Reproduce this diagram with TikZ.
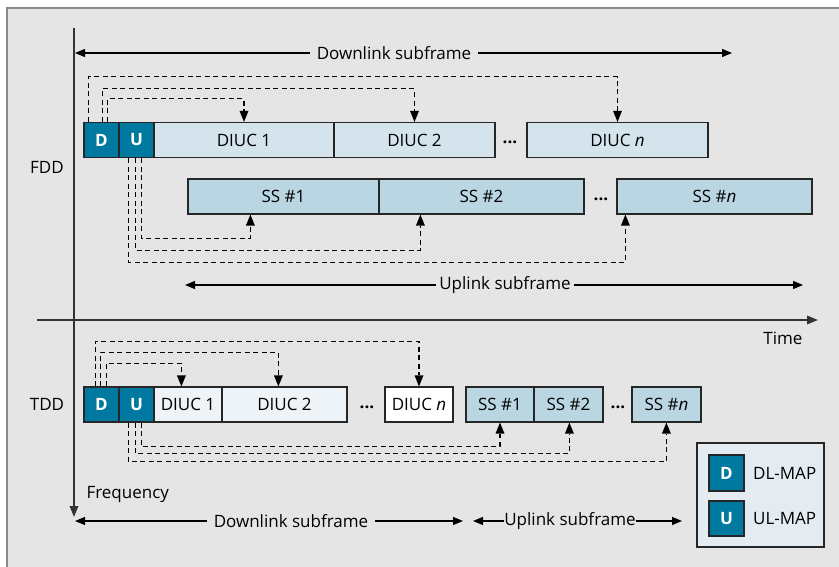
\documentclass[tikz,border=0pt]{standalone}
\usepackage{fontspec}
\setmainfont{Open Sans}
\usetikzlibrary{arrows.meta}
\definecolor{mapblue}{RGB}{0,121,160}
\definecolor{dlblue}{RGB}{213,228,236}
\definecolor{ulblue}{RGB}{186,214,227}
\definecolor{tddlight}{RGB}{238,243,247}
\definecolor{panel}{RGB}{229,229,229}
\definecolor{keybg}{RGB}{228,236,241}
\definecolor{framegray}{RGB}{138,138,138}

\begin{document}
\begin{tikzpicture}[x=1pt,y=-1pt,
        font=\fontsize{17}{20}\selectfont,
        slot/.style={draw=black!85, line width=1.2pt, inner sep=0pt, minimum height=35pt},
        mapbox/.style={slot, fill=mapblue, text=white, font=\fontsize{17}{20}\selectfont\bfseries, minimum width=35pt},
        gap/.style={font=\fontsize{17}{20}\selectfont\bfseries},
        map/.style={line width=1.1pt, dash pattern=on 5pt off 3.5pt, -{Triangle[length=11pt,width=9pt,line width=0pt]}},
        span/.style={line width=1.1pt, -{Triangle[length=10pt,width=8pt]}},
        axis/.style={line width=1.8pt, draw=black!80, -{Triangle[length=11pt,width=8.5pt]}}]

        % panel
        \useasboundingbox (0,0) rectangle (839,567);
        \fill[panel] (7,8) rectangle (839,567);
        \draw[framegray, line width=2pt] (7,567) -- (7,8) -- (839,8);

        % axes
        \coordinate (ftop) at (74,28);
        \coordinate (fbot) at (74,517);
        \coordinate (tleft) at (37,320);
        \coordinate (tright) at (818,320);
        \draw[axis] (ftop) -- (fbot);
        \draw[axis] (tleft) -- (tright);
        \node (time) at (783,338) {Time};
        \node[anchor=west] (freq) at (83,494) {Frequency};
        \node (fdd) at (47,167) {FDD};
        \node (tdd) at (47,404) {TDD};

        % FDD frame
        \node[mapbox] (fD) at (101.5,140) {D};
        \node[mapbox] (fU) at (136.5,140) {U};
        \node[slot, fill=dlblue, minimum width=180pt] (fdl1) at (244,140) {DIUC 1};
        \node[slot, fill=dlblue, minimum width=161pt] (fdl2) at (414.5,140) {DIUC 2};
        \node[gap] (fdots1) at (510,142) {...};
        \node[slot, fill=dlblue, minimum width=181pt] (fdln) at (617.5,140) {DIUC \emph{n}};
        \node[slot, fill=ulblue, minimum width=191pt] (fss1) at (283.5,196.5) {SS \#1};
        \node[slot, fill=ulblue, minimum width=205pt] (fss2) at (481.5,196.5) {SS \#2};
        \node[gap] (fdots2) at (601,199) {...};
        \node[slot, fill=ulblue, minimum width=195pt] (fssn) at (714.5,196.5) {SS \#\emph{n}};

        \draw[map] ([xshift=5pt]fD.north west) -- ++(0,-45) -| (fdln.north);
        \draw[map] ([xshift=19pt]fD.north west) -- ++(0,-33) -| (fdl2.north);
        \draw[map] ([xshift=24pt]fD.north west) -- ++(0,-23) -| (fdl1.north);
        \draw[map] ([xshift=23pt]fU.south west) -- ++(0,80) -| ([xshift=63pt]fss1.south west);
        \draw[map] ([xshift=17pt]fU.south west) -- ++(0,92) -| ([xshift=42pt]fss2.south west);
        \draw[map] ([xshift=10pt]fU.south west) -- ++(0,104) -| ([xshift=9pt]fssn.south west);

        \coordinate (fdlL) at (75,53);
        \coordinate (fdlR) at (732,53);
        \node[inner sep=7pt] (fdl) at (394,53) {Downlink subframe};
        \draw[span] (fdl) -- (fdlL);
        \draw[span] (fdl) -- (fdlR);
        \coordinate (fulL) at (185,285);
        \coordinate (fulR) at (803,285);
        \node[inner sep=3pt] (ful) at (505,285) {Uplink subframe};
        \draw[span] (ful) -- (fulL);
        \draw[span] (ful) -- (fulR);

        % TDD frame
        \node[mapbox] (tD) at (101.5,404.5) {D};
        \node[mapbox] (tU) at (136.5,404.5) {U};
        \node[slot, fill=tddlight, minimum width=68pt] (tdl1) at (188,404.5) {DIUC 1};
        \node[slot, fill=tddlight, minimum width=125pt] (tdl2) at (284.5,404.5) {DIUC 2};
        \node[gap] (tdots1) at (367,407) {...};
        \node[slot, fill=white, minimum width=68pt] (tdln) at (419,404.5) {DIUC \emph{n}};
        \node[slot, fill=ulblue, minimum width=68pt] (tss1) at (500,404.5) {SS \#1};
        \node[slot, fill=ulblue, minimum width=69pt] (tss2) at (568.5,404.5) {SS \#2};
        \node[gap] (tdots2) at (618,407) {...};
        \node[slot, fill=ulblue, minimum width=69pt] (tssn) at (666.5,404.5) {SS \#\emph{n}};

        \draw[map] ([xshift=12pt]tD.north west) -- ++(0,-45) -| (tdln.north);
        \draw[map] ([xshift=17pt]tD.north west) -- ++(0,-34) -| ([xshift=57pt]tdl2.north west);
        \draw[map] ([xshift=23pt]tD.north west) -- ++(0,-23) -| ([xshift=28pt]tdl1.north west);
        \draw[map] ([xshift=23pt]tU.south west) -- ++(0,24) -| (tss1.south);
        \draw[map] ([xshift=17pt]tU.south west) -- ++(0,31) -| ([xshift=36pt]tss2.south west);
        \draw[map] ([xshift=10pt]tU.south west) -- ++(0,39) -| ([xshift=35pt]tssn.south west);

        \coordinate (tdlL) at (75,521);
        \coordinate (tdlR) at (463,521);
        \node[inner sep=7pt] (tdl) at (291,521) {Downlink subframe};
        \draw[span] (tdl) -- (tdlL);
        \draw[span] (tdl) -- (tdlR);
        \coordinate (tulL) at (473,521);
        \coordinate (tulR) at (682,521);
        \node[inner sep=0pt] (tul) at (570,521) {Uplink subframe};
        \draw[span] (tul) -- (tulL);
        \draw[span] (tul) -- (tulR);

        % key
        \node[draw=black!85, line width=1.2pt, fill=keybg, minimum width=127pt, minimum height=104pt] (key) at (760.5,495) {};
        \node[mapbox, minimum height=36pt] (kD) at (726.5,473) {D};
        \node[mapbox] (kU) at (726.5,518.5) {U};
        \node[anchor=west, inner sep=0pt] (kDtxt) at (753,473) {DL-MAP};
        \node[anchor=west, inner sep=0pt] (kUtxt) at (753,518.5) {UL-MAP};

    \end{tikzpicture}
\end{document}
